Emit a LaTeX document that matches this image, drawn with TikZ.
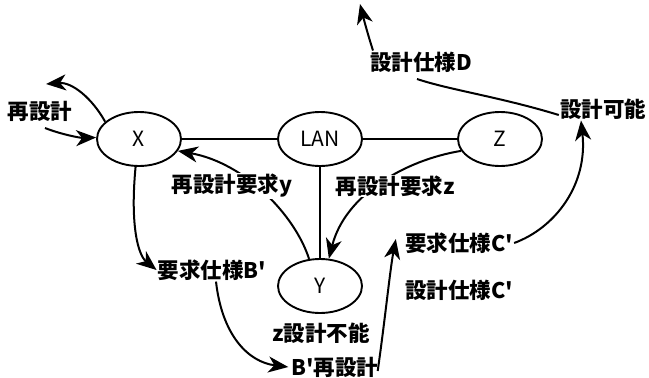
\documentclass[tikz,border=0pt]{standalone}
\usepackage{fontspec}
\newfontfamily\jp{Noto Sans CJK JP}
\usetikzlibrary{arrows.meta,shapes.geometric}
\begin{document}
\begin{tikzpicture}[x=1pt,y=-1pt,
  ent/.style={draw,line width=1.9pt,ellipse,minimum width=84pt,minimum height=54pt,inner sep=0pt,font=\jp\fontsize{21}{23}\selectfont},
  lbl/.style={inner sep=1pt,font=\jp\bfseries\fontsize{21.5}{24}\selectfont},
  arr/.style={line width=2pt,-{Stealth[length=20pt,width=16pt,inset=6pt]}},
  ln/.style={line width=2pt}]
\useasboundingbox (0,0) rectangle (649,378);
\node[ent] (X) at (139,139) {X};
\node[ent] (LAN) at (320,139) {LAN};
\node[ent] (Z) at (500,139) {Z};
\node[ent] (Y) at (320,286) {Y};
\draw[ln] (X) -- (LAN);
\draw[ln] (LAN) -- (Z);
\draw[ln] (LAN) -- (Y);
% loops at X
\node[lbl] (re) at (40,111) {再設計};
\coordinate (loopout) at (46,84);
\coordinate (loopin) at (45,128);
\draw[arr] (X.153) .. controls (92,98) and (72,82) .. (loopout);
\draw[arr] (loopin) .. controls (60,134) and (80,138) .. (X.178);
% redesign requests
\draw[arr] (Y.112) .. controls (295,215) and (245,163) .. (X.343);
\draw[arr] (Z.197) .. controls (405,160) and (345,195) .. (Y.72);
\node[lbl,fill=white] (ry) at (232,186) {再設計要求y};
\node[lbl,fill=white] (rz) at (395,186) {再設計要求z};
% B' chain
\node[lbl] (Bp) at (212,270) {要求仕様B'};
\node[lbl] (zn) at (321,333) {z設計不能};
\node[lbl] (Br) at (335,367) {B'再設計};
\draw[arr] (X.263) .. controls (130,225) and (138,255) .. (Bp.west);
\coordinate (bs) at ([xshift=4pt]Bp.south);
\draw[arr] (bs) .. controls (222,335) and (248,362) .. ([xshift=-2pt]Br.west);
% C'
\node[lbl] (Cp) at (459,243) {要求仕様C'};
\node[lbl] (Cd) at (459,290) {設計仕様C'};
\draw[arr] ([xshift=-2pt,yshift=-4pt]Br.east) .. controls (385,320) and (390,270) .. ([xshift=-8pt,yshift=4pt]Cp.west);
% possible
\node[lbl] (ok) at (603,109) {設計可能};
\draw[arr] (Cp.east) .. controls (555,228) and (588,185) .. ([xshift=-22pt]ok.south);
% D
\node[lbl] (D) at (421,62) {設計仕様D};
\coordinate (dend) at (417,79);
\coordinate (dtip) at (360,4);
\draw[ln] ([yshift=-6pt]ok.west) .. controls (500,97) and (450,90) .. (dend);
\draw[arr] ([xshift=-48pt]D.north) .. controls (368,35) and (364,20) .. (dtip);
\end{tikzpicture}
\end{document}
